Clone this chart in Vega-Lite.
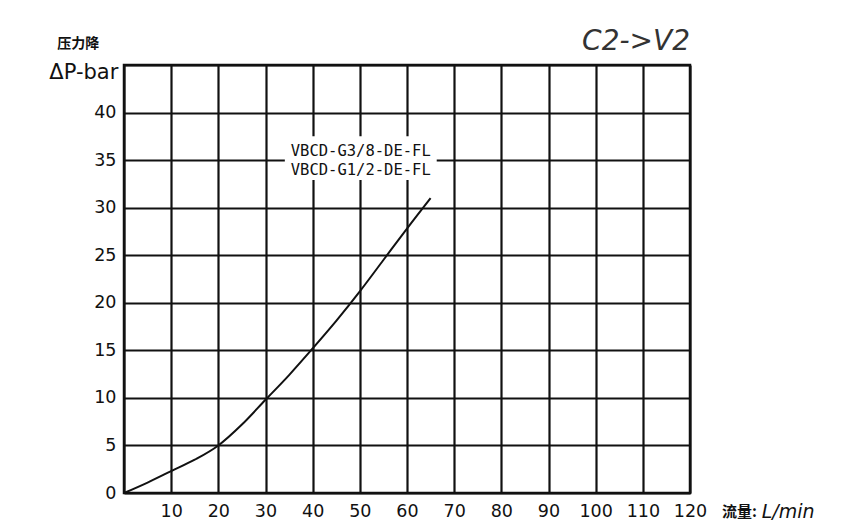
{
  "$schema": "https://vega.github.io/schema/vega-lite/v6.json",
  "width": 566,
  "height": 428,
  "autosize": {"type": "none"},
  "padding": {"left": 124, "top": 65, "right": 151, "bottom": 31},
  "background": "white",
  "title": {"text": "C2->V2", "anchor": "end", "frame": "group", "fontSize": 28, "fontStyle": "italic", "font": "DejaVu Sans", "fontWeight": "normal", "color": "#333333", "offset": -19},
  "config": {
    "view": {"stroke": "#111111", "strokeWidth": 2.5},
    "axis": {"gridColor": "#111111", "gridWidth": 2.2, "gridOpacity": 1, "ticks": false, "domain": false, "labelFont": "DejaVu Sans", "labelFontSize": 17.5, "labelColor": "#111111", "labelOverlap": false, "labelFlush": false, "title": null}
  },
  "datasets": {
    "curve": [
      {"flow": 0, "dp": 0}, {"flow": 5, "dp": 1.1}, {"flow": 10, "dp": 2.3}, {"flow": 15, "dp": 3.5},
      {"flow": 20, "dp": 5}, {"flow": 25, "dp": 7.2}, {"flow": 30, "dp": 9.8}, {"flow": 35, "dp": 12.4},
      {"flow": 40, "dp": 15.2}, {"flow": 45, "dp": 18.1}, {"flow": 50, "dp": 21.2}, {"flow": 55, "dp": 24.5},
      {"flow": 60, "dp": 27.8}, {"flow": 65, "dp": 31}
    ],
    "box": [{"x1": 34.1, "x2": 66.3, "y1": 32.9, "y2": 37.5}],
    "label": [
      {"x": 50.2, "y": 36.0, "t": "VBCD-G3/8-DE-FL"},
      {"x": 50.2, "y": 34.0, "t": "VBCD-G1/2-DE-FL"}
    ],
    "ytitle": [{"x": -1.2, "y": 44.2, "t": "ΔP-bar"}],
    "ytitle2": [{"x": -9.7, "y": 47.2, "t": "压力降"}],
    "xtitle": [{"x": 130.5, "y": -2.0, "t": "流量:"}],
    "xunit": [{"x": 135.2, "y": -2.0, "t": "L/min"}]
  },
  "layer": [
    {
      "data": {"name": "box"},
      "mark": {"type": "rect", "fill": "white"},
      "encoding": {
        "x": {"field": "x1", "type": "quantitative", "scale": {"domain": [0, 120], "nice": false}, "axis": {"values": [0,10,20,30,40,50,60,70,80,90,100,110,120], "labelExpr": "datum.value == 0 ? '' : datum.label", "labelPadding": 9}},
        "x2": {"field": "x2"},
        "y": {"field": "y1", "type": "quantitative", "scale": {"domain": [0, 45], "nice": false}, "axis": {"values": [0,5,10,15,20,25,30,35,40,45], "labelExpr": "datum.value == 45 ? '' : datum.label", "labelPadding": 8}},
        "y2": {"field": "y2"}
      }
    },
    {
      "data": {"name": "label"},
      "mark": {"type": "text", "font": "DejaVu Sans Mono", "fontSize": 15.5, "color": "#111111", "baseline": "middle", "align": "center"},
      "encoding": {"x": {"field": "x", "type": "quantitative"}, "y": {"field": "y", "type": "quantitative"}, "text": {"field": "t"}}
    },
    {
      "data": {"name": "curve"},
      "mark": {"type": "line", "color": "#111111", "strokeWidth": 2, "interpolate": "monotone"},
      "encoding": {"x": {"field": "flow", "type": "quantitative"}, "y": {"field": "dp", "type": "quantitative"}}
    },
    {
      "data": {"name": "ytitle"},
      "mark": {"type": "text", "font": "DejaVu Sans", "fontSize": 21, "color": "#111111", "baseline": "middle", "align": "right"},
      "encoding": {"x": {"field": "x", "type": "quantitative"}, "y": {"field": "y", "type": "quantitative"}, "text": {"field": "t"}}
    },
    {
      "data": {"name": "ytitle2"},
      "mark": {"type": "text", "font": "Noto Sans CJK SC", "fontSize": 14, "fontWeight": "bold", "color": "#111111", "baseline": "middle", "align": "center"},
      "encoding": {"x": {"field": "x", "type": "quantitative"}, "y": {"field": "y", "type": "quantitative"}, "text": {"field": "t"}}
    },
    {
      "data": {"name": "xtitle"},
      "mark": {"type": "text", "font": "Noto Sans CJK SC", "fontSize": 15, "fontWeight": "bold", "color": "#111111", "baseline": "middle", "align": "center"},
      "encoding": {"x": {"field": "x", "type": "quantitative"}, "y": {"field": "y", "type": "quantitative"}, "text": {"field": "t"}}
    },
    {
      "data": {"name": "xunit"},
      "mark": {"type": "text", "font": "DejaVu Sans", "fontSize": 19, "fontStyle": "italic", "color": "#111111", "baseline": "middle", "align": "left"},
      "encoding": {"x": {"field": "x", "type": "quantitative"}, "y": {"field": "y", "type": "quantitative"}, "text": {"field": "t"}}
    }
  ]
}
